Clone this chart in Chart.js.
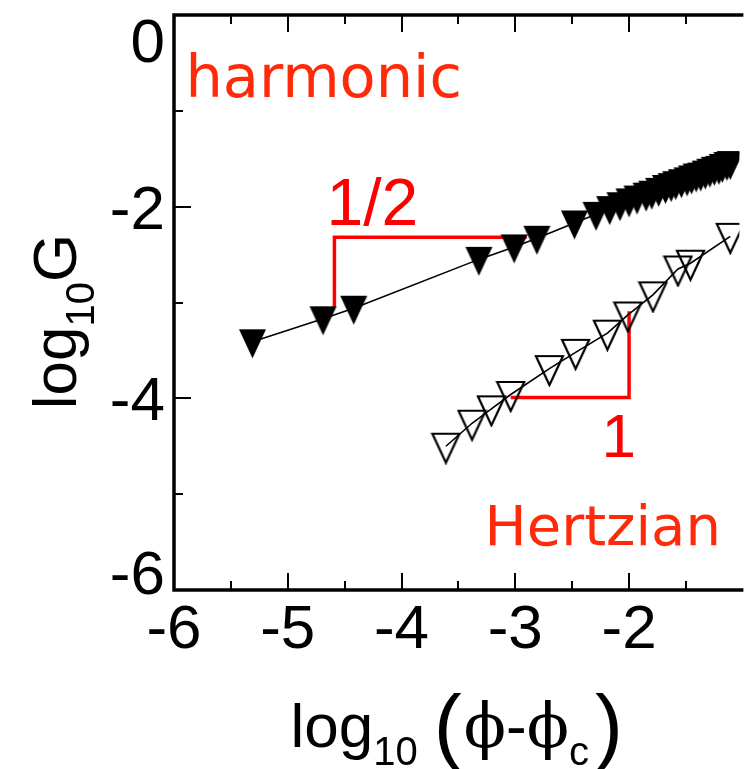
<!DOCTYPE html>
<html>
<head>
<meta charset="utf-8">
<script src="https://cdn.jsdelivr.net/npm/chart.js@4.4.1/dist/chart.umd.min.js"></script>
<style>
  html, body { margin: 0; padding: 0; background: #fff; overflow: hidden; }
  #shearChart { display: block; }
</style>
</head>
<body>
<canvas id="shearChart" width="753" height="769"></canvas>
<script>
// Shear modulus vs. distance to jamming, log10 on both axes
const harmonicX = [-5.31, -4.69, -4.42, -3.32, -3.01, -2.81, -2.48, -2.29,
  -2.17, -2.08, -2.00, -1.93, -1.85, -1.80, -1.74, -1.68, -1.63, -1.59, -1.54,
  -1.49, -1.45, -1.41, -1.37, -1.33, -1.29, -1.25, -1.21, -1.18, -1.14, -1.11];
const harmonicY = [-3.41, -3.17, -3.06, -2.55, -2.42, -2.33, -2.17, -2.08,
  -2.02, -1.98, -1.94, -1.91, -1.88, -1.86, -1.83, -1.80, -1.78, -1.76, -1.74,
  -1.72, -1.70, -1.68, -1.67, -1.65, -1.63, -1.61, -1.60, -1.58, -1.56, -1.55];

const hertzX = [-3.61, -3.38, -3.21, -3.04, -2.70, -2.47, -2.19, -2.01, -1.79, -1.57, -1.46, -1.11];
const hertzY = [-4.50, -4.26, -4.11, -3.96, -3.69, -3.52, -3.32, -3.13, -2.92, -2.65, -2.59, -2.31];

// slope guides
const halfSlopeX = [-4.59, -4.59, -2.90];
const halfSlopeY = [-3.05, -2.32, -2.32];
const unitSlopeX = [-3.04, -2.00, -2.00];
const unitSlopeY = [-3.99, -3.99, -3.09];

// axes
const xMin = -6, xMax = -1.03;
const yMin = -6, yMax = 0;
const xMajorTicks = [-6, -5, -4, -3, -2];
const xMinorTicks = [-5.5, -4.5, -3.5, -2.5, -1.5];
const yMajorTicks = [0, -2, -4, -6];
const yMinorTicks = [-1, -3, -5];

const RED = '#ff0000';
const WORD_RED = '#ff2a0a';
const SANS = '"Liberation Sans", Arial, Helvetica, sans-serif';
const SERIF = '"DejaVu Serif", "Liberation Serif", serif';

// text annotations, anchored in data units
const notes = [
  { text: 'harmonic', x: -5.90, y: -0.86, font: '59px "DejaVu Sans", sans-serif', color: WORD_RED, align: 'left' },
  { text: '1/2', x: -4.66, y: -2.19, font: '66px ' + SANS, color: RED, align: 'left' },
  { text: '1', x: -2.09, y: -4.61, font: '62px ' + SANS, color: RED, align: 'center' },
  { text: 'Hertzian', x: -3.27, y: -5.53, font: '56px "DejaVu Sans", sans-serif', color: WORD_RED, align: 'left' }
];

function pairs(xs, ys) {
  return xs.map((x, i) => ({ x: x, y: ys[i] }));
}

// downward triangle marker; point sits a little above the box centre
function triangleMarker(filled) {
  const w = 27, h = 29, m = 6;
  const c = document.createElement('canvas');
  c.width = w + 4;
  c.height = 2 * Math.round(m + 0.4 * h) + 1;
  const g = c.getContext('2d');
  g.beginPath();
  g.moveTo(2, m);
  g.lineTo(2 + w, m);
  g.lineTo(2 + w / 2, m + h);
  g.closePath();
  if (filled) {
    g.fillStyle = '#000';
    g.fill();
  } else {
    g.lineWidth = 2.2;
    g.lineJoin = 'miter';
    g.strokeStyle = '#000';
    g.stroke();
  }
  return c;
}

// draw a run of text pieces (sub-scripts etc.) centred on cx
function drawRuns(ctx, runs, cx, baseline) {
  let total = 0;
  runs.forEach(r => { ctx.font = r.font; r.w = ctx.measureText(r.text).width + (r.gap || 0); total += r.w; });
  let x = cx - total / 2;
  ctx.textAlign = 'left';
  ctx.textBaseline = 'alphabetic';
  runs.forEach(r => {
    ctx.font = r.font;
    ctx.fillText(r.text, x, baseline + (r.dy || 0));
    x += r.w;
  });
}

const axesPlugin = {
  id: 'axesFrame',
  afterDatasetsDraw(chart) {
    const { ctx, chartArea: a, scales: { x, y } } = chart;
    ctx.save();
    ctx.strokeStyle = '#000';
    ctx.fillStyle = '#000';

    // inward tick marks on the bottom, top and left edges
    ctx.lineWidth = 2;
    ctx.beginPath();
    const xTick = (v, len) => {
      const px = Math.round(x.getPixelForValue(v));
      ctx.moveTo(px, a.bottom); ctx.lineTo(px, a.bottom - len);
      ctx.moveTo(px, a.top); ctx.lineTo(px, a.top + len);
    };
    const yTick = (v, len) => {
      const py = Math.round(y.getPixelForValue(v));
      ctx.moveTo(a.left, py); ctx.lineTo(a.left + len, py);
    };
    xMajorTicks.forEach(v => xTick(v, 17));
    xMinorTicks.forEach(v => xTick(v, 9));
    yMajorTicks.forEach(v => yTick(v, 17));
    yMinorTicks.forEach(v => yTick(v, 9));
    ctx.stroke();

    // frame: the right side runs off the canvas
    ctx.lineWidth = 3.5;
    ctx.lineJoin = 'miter';
    ctx.beginPath();
    ctx.moveTo(a.right + 4, a.top);
    ctx.lineTo(a.left, a.top);
    ctx.lineTo(a.left, a.bottom);
    ctx.lineTo(a.right + 4, a.bottom);
    ctx.stroke();

    // tick labels
    ctx.font = '62px ' + SANS;
    const cap = 44;
    ctx.textBaseline = 'alphabetic';
    ctx.textAlign = 'center';
    xMajorTicks.forEach(v => {
      ctx.fillText(String(v), x.getPixelForValue(v), a.bottom + 58);
    });
    ctx.textAlign = 'right';
    yMajorTicks.forEach(v => {
      let base = y.getPixelForValue(v) + cap / 2;
      base = Math.max(a.top + cap + 3, Math.min(a.bottom + 4, base));
      ctx.fillText(String(v), a.left - 9, base);
    });

    // axis titles
    const big = '62px ' + SANS, sub = '40px ' + SANS;
    drawRuns(ctx, [
      { text: 'log', font: big },
      { text: '10', font: sub, dy: 18, gap: 16 },
      { text: '(', font: '84px ' + SANS, dy: 7, gap: 2 },
      { text: '\u03D5', font: '62px ' + SERIF },
      { text: '-', font: big },
      { text: '\u03D5', font: '62px ' + SERIF },
      { text: 'c', font: sub, dy: 18, gap: 6 },
      { text: ')', font: '84px ' + SANS, dy: 7 }
    ], (a.left + a.right) / 2, a.bottom + 157);

    ctx.save();
    ctx.translate(76, (a.top + a.bottom) / 2 + 19);
    ctx.rotate(-Math.PI / 2);
    drawRuns(ctx, [
      { text: 'log', font: big },
      { text: '10', font: sub, dy: 18 },
      { text: 'G', font: big }
    ], 0, 0);
    ctx.restore();

    // annotations
    notes.forEach(n => {
      ctx.font = n.font;
      ctx.fillStyle = n.color;
      ctx.textAlign = n.align;
      ctx.fillText(n.text, x.getPixelForValue(n.x), y.getPixelForValue(n.y));
    });
    ctx.restore();
  }
};

const filledTri = triangleMarker(true);
const openTri = triangleMarker(false);

new Chart(document.getElementById('shearChart'), {
  type: 'scatter',
  data: {
    datasets: [{
      label: 'harmonic',
      data: pairs(harmonicX, harmonicY),
      showLine: true,
      borderColor: '#000',
      borderWidth: 1.6,
      pointStyle: filledTri,
      pointRadius: 12
    }, {
      label: 'Hertzian',
      data: pairs(hertzX, hertzY),
      showLine: true,
      borderColor: '#000',
      borderWidth: 1.6,
      pointStyle: openTri,
      pointRadius: 12
    }, {
      label: 'slope 1/2',
      data: pairs(halfSlopeX, halfSlopeY),
      showLine: true,
      borderColor: RED,
      borderWidth: 3.5,
      borderJoinStyle: 'miter',
      pointRadius: 0
    }, {
      label: 'slope 1',
      data: pairs(unitSlopeX, unitSlopeY),
      showLine: true,
      borderColor: RED,
      borderWidth: 3.5,
      borderJoinStyle: 'miter',
      pointRadius: 0
    }]
  },
  options: {
    responsive: false,
    animation: false,
    layout: { padding: { left: 174, top: 15, right: 0, bottom: 179 } },
    scales: {
      x: { type: 'linear', min: xMin, max: xMax, display: false },
      y: { type: 'linear', min: yMin, max: yMax, display: false }
    },
    plugins: {
      legend: { display: false },
      tooltip: { enabled: false }
    }
  },
  plugins: [axesPlugin]
});
</script>
</body>
</html>
